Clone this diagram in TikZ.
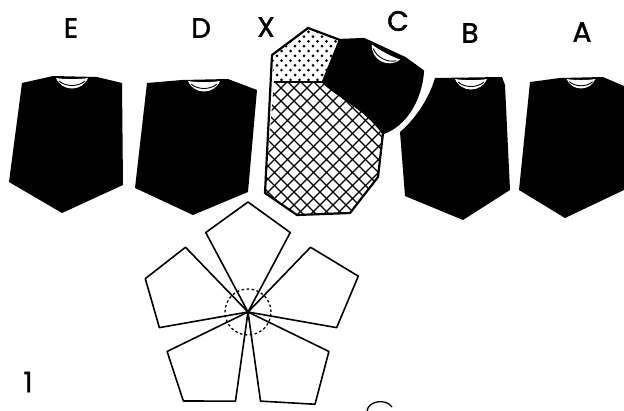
\documentclass[tikz,border=0pt]{standalone}
\usepackage{fontspec}
\setmainfont{Poppins}
\newfontfamily\tagfont{Poppins}[FakeBold=1.5]
\usetikzlibrary{calc}

\tikzset{
	vest/.style={fill=black},
	piece/.style={draw=black, line width=2.2pt, line join=round},
	petal/.style={draw=black, line width=1.6pt, line join=round},
	tag/.style={font=\fontsize{28}{28}\selectfont\tagfont, inner sep=0pt},
	collar/.pic={
			\fill[white] (-16,0) .. controls (-8,1.5) and (8,1.5) .. (16,0)
				.. controls (10,14) and (-10,14) .. cycle;
			\draw[line width=0.9pt] (-13,3) .. controls (-6,9) and (6,9) .. (13,3);
		},
}

\begin{document}
\begin{tikzpicture}[x={(1pt,0)}, y={(0,-1pt)}]
	\useasboundingbox (0,0) rectangle (624,410);

	% letters over the pieces
	\node[tag] (lblE) at (71,28) {E};
	\node[tag] (lblD) at (201,28) {D};
	\node[tag] (lblX) at (266,27) {X};
	\node[tag] (lblC) at (398,21) {C};
	\node[tag] (lblB) at (470,33) {B};
	\node[tag] (lblA) at (582,32) {A};
	\node[tag] (num) at (28,382) {1};

	% black vests
	\fill[vest] (22,83) -- (53,76) -- (97,77) -- (122,83) -- (123,185) -- (62,213) -- (9,182) -- cycle;
	\pic at (72,78) {collar};
	\fill[vest] (147,83) -- (182,80) -- (228,79) -- (257,90) -- (248,192) -- (193,215) -- (135,188) -- cycle;
	\pic at (204,81) {collar};
	\fill[vest] (435,78) -- (502,77) -- (505,85) -- (510,190) -- (463,220) -- (405,196) -- (400,132)
		.. controls (412,122) and (428,102) .. cycle;
	\pic at (471,79) {collar};
	\fill[vest] (530,82) -- (560,78) -- (603,77) -- (624,86) -- (624,190) -- (565,218) -- (519,190) -- cycle;
	\pic[scale=0.9] at (581,79) {collar};

	% piece X
	\coordinate (x1) at (272,55);
	\coordinate (x2) at (308,28);
	\coordinate (x3) at (340,40);
	\coordinate (x4) at (323,82);
	\coordinate (x5) at (383,133);
	\coordinate (x6) at (378,177);
	\coordinate (x7) at (350,213);
	\coordinate (x8) at (297,215);
	\coordinate (x9) at (265,193);
	\coordinate (x10) at (274,82);
	\begin{scope}
		\clip (x1) -- (x2) -- (x3) -- (x4) -- (x10) -- cycle;
		\foreach \j in {0,...,12} {
				\foreach \i in {0,...,9} {
						\fill ({268+9*\i+4.5*mod(\j,2)},{27+4.8*\j}) circle[radius=1.5pt];
					}
			}
	\end{scope}
	\begin{scope}
		\clip (x10) -- (x4) .. controls (340,98) and (365,108) .. (x5) -- (x6) -- (x7) -- (x8) -- (x9) -- cycle;
		\foreach \c in {-143,-130,...,143} {
				\draw[line width=1.1pt] ({320+\c-110},{140-110}) -- ({320+\c+110},{140+110});
				\draw[line width=1.1pt] ({320+\c+110},{140-110}) -- ({320+\c-110},{140+110});
			}
	\end{scope}
	\draw[piece] (x1) -- (x2) -- (x3) -- (x4) .. controls (340,98) and (365,108) .. (x5)
		-- (x6) -- (x7) -- (x8) -- (x9) -- cycle;
	\draw[piece] (x10) -- (x4);

	% piece C laid over X
	\filldraw[piece, fill=black] (x3) -- (364,39) -- (405,58) -- (423,71)
		.. controls (421,100) and (405,126) .. (x5)
		.. controls (365,108) and (340,98) .. (x4) -- cycle;
	\pic[rotate=-28] at (386,52) {collar};

	% five petals round the hub
	\coordinate (hub) at (248,312);
	\begin{scope}[shift={(hub)}]
		\foreach \a/\r in {270/110,198/108,342/116,126/110,54/114} {
				\draw[petal] (0,0) -- (\a-28:90) -- (\a:\r) -- (\a+28:90) -- cycle;
			}
	\end{scope}
	\draw[line width=1.3pt, dash pattern=on 2.5pt off 2.5pt] (hub) circle[radius=23pt];

	% start of the next loop at the foot
	\draw[line width=1.3pt] (367,411) .. controls (368,401) and (386,398) .. (392,407);
\end{tikzpicture}
\end{document}
